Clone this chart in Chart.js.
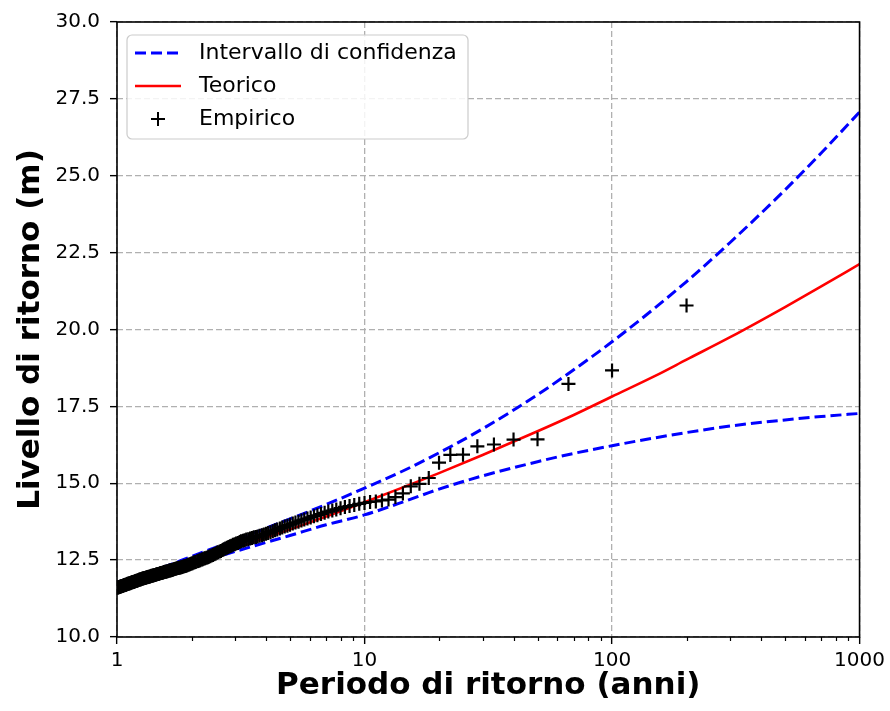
<!DOCTYPE html>
<html>
<head>
<meta charset="utf-8">
<script src="https://cdn.jsdelivr.net/npm/chart.js@4.4.0/dist/chart.umd.min.js"></script>
<style>
html, body { margin: 0; padding: 0; background: #fff; }
#wrap { width: 890px; height: 711px; }
</style>
</head>
<body>
<div id="wrap"><canvas id="grafico" width="890" height="711"></canvas></div>
<script>
// curve teoriche e intervallo di confidenza (periodo di ritorno in anni -> livello in m)
var periodiCurve = [1, 1.5, 2, 3, 5, 7, 10, 15, 20, 30, 50, 70, 100, 150, 200, 300, 500, 700, 1000];
var teorico = [11.68, 12.11, 12.43, 12.89, 13.50, 13.92, 14.38, 14.93, 15.33, 15.92, 16.69, 17.22, 17.82, 18.50, 19.02, 19.75, 20.73, 21.40, 22.13];
var confSup = [11.78, 12.24, 12.62, 13.15, 13.84, 14.31, 14.84, 15.48, 15.99, 16.77, 17.88, 18.69, 19.60, 20.72, 21.56, 22.83, 24.54, 25.74, 27.07];
var confInf = [11.60, 12.02, 12.33, 12.78, 13.30, 13.65, 13.97, 14.45, 14.81, 15.24, 15.70, 15.97, 16.22, 16.48, 16.65, 16.86, 17.06, 17.17, 17.27];

// punti empirici
var periodiEmpirici = [200, 100, 66.67, 50, 40, 33.33, 28.57, 25, 22.22, 20,
  18.18, 16.67, 15.38, 14.29, 13.33, 12.5, 11.76, 11.11, 10.53, 10,
  9.52, 9.09, 8.70, 8.33, 8, 7.69, 7.41, 7.14, 6.90, 6.67,
  6.45, 6.25, 6.06, 5.88, 5.71, 5.56, 5.41, 5.26, 5.13, 5,
  4.88, 4.76, 4.65, 4.55, 4.44, 4.35, 4.26, 4.17, 4.08, 4,
  3.92, 3.85, 3.77, 3.70, 3.64, 3.57, 3.51, 3.45, 3.39, 3.33,
  3.28, 3.23, 3.17, 3.13, 3.08, 3.03, 2.99, 2.94, 2.90, 2.86,
  2.82, 2.78, 2.74, 2.70, 2.67, 2.63, 2.60, 2.56, 2.53, 2.5,
  2.47, 2.44, 2.41, 2.38, 2.35, 2.33, 2.30, 2.27, 2.25, 2.22,
  2.20, 2.17, 2.15, 2.13, 2.11, 2.08, 2.06, 2.04, 2.02, 2,
  1.980, 1.961, 1.942, 1.923, 1.905, 1.887, 1.869, 1.852, 1.835, 1.818,
  1.802, 1.786, 1.770, 1.754, 1.739, 1.724, 1.709, 1.695, 1.681, 1.667,
  1.653, 1.639, 1.626, 1.613, 1.6, 1.587, 1.575, 1.563, 1.550, 1.538,
  1.527, 1.515, 1.504, 1.493, 1.481, 1.471, 1.460, 1.449, 1.439, 1.429,
  1.418, 1.408, 1.399, 1.389, 1.379, 1.370, 1.361, 1.351, 1.342, 1.333,
  1.325, 1.316, 1.307, 1.299, 1.290, 1.282, 1.274, 1.266, 1.258, 1.25,
  1.242, 1.235, 1.227, 1.220, 1.212, 1.205, 1.198, 1.190, 1.183, 1.176,
  1.170, 1.163, 1.156, 1.149, 1.143, 1.136, 1.130, 1.124, 1.117, 1.111,
  1.105, 1.099, 1.093, 1.087, 1.081, 1.075, 1.070, 1.064, 1.058, 1.053,
  1.047, 1.042, 1.036, 1.031, 1.026, 1.020, 1.015, 1.010, 1.005];
var livelliEmpirici = [20.78, 18.67, 18.23, 16.43, 16.42, 16.26, 16.20, 15.93, 15.92, 15.67,
  15.17, 14.98, 14.90, 14.67, 14.55, 14.47, 14.44, 14.41, 14.39, 14.36,
  14.33, 14.29, 14.26, 14.23, 14.19, 14.15, 14.11, 14.08, 14.04, 14.00,
  13.96, 13.93, 13.89, 13.85, 13.82, 13.79, 13.75, 13.72, 13.69, 13.65,
  13.62, 13.59, 13.56, 13.53, 13.50, 13.47, 13.44, 13.41, 13.38, 13.36,
  13.33, 13.31, 13.29, 13.27, 13.25, 13.24, 13.22, 13.20, 13.18, 13.17,
  13.15, 13.13, 13.11, 13.09, 13.06, 13.04, 13.02, 13.00, 12.97, 12.95,
  12.93, 12.90, 12.88, 12.85, 12.83, 12.80, 12.78, 12.76, 12.74, 12.71,
  12.69, 12.67, 12.65, 12.63, 12.61, 12.59, 12.58, 12.56, 12.55, 12.53,
  12.52, 12.50, 12.49, 12.47, 12.46, 12.44, 12.43, 12.42, 12.40, 12.39,
  12.37, 12.36, 12.35, 12.33, 12.32, 12.31, 12.30, 12.29, 12.28, 12.27,
  12.26, 12.25, 12.24, 12.24, 12.23, 12.22, 12.21, 12.20, 12.19, 12.18,
  12.17, 12.16, 12.16, 12.15, 12.14, 12.13, 12.12, 12.12, 12.11, 12.10,
  12.09, 12.08, 12.08, 12.07, 12.06, 12.05, 12.05, 12.04, 12.03, 12.02,
  12.02, 12.01, 12.00, 11.99, 11.99, 11.98, 11.97, 11.96, 11.96, 11.95,
  11.94, 11.94, 11.93, 11.92, 11.92, 11.91, 11.90, 11.90, 11.89, 11.88,
  11.87, 11.87, 11.86, 11.85, 11.84, 11.83, 11.83, 11.82, 11.81, 11.80,
  11.80, 11.79, 11.78, 11.78, 11.77, 11.76, 11.75, 11.75, 11.74, 11.73,
  11.73, 11.72, 11.71, 11.70, 11.70, 11.69, 11.68, 11.68, 11.67, 11.66,
  11.66, 11.65, 11.64, 11.64, 11.63, 11.63, 11.62, 11.61, 11.61];

// tacche degli assi
var xTicks = [1, 2, 3, 4, 5, 6, 7, 8, 9, 10, 20, 30, 40, 50, 60, 70, 80, 90, 100, 200, 300, 400, 500, 600, 700, 800, 900, 1000];
var xMajor = [1, 10, 100, 1000];
var xTickLabels = ['1', '10', '100', '1000'];
var yTicks = [10, 12.5, 15, 17.5, 20, 22.5, 25, 27.5, 30];
var yTickLabels = ['10.0', '12.5', '15.0', '17.5', '20.0', '22.5', '25.0', '27.5', '30.0'];

var etichette = ['Intervallo di confidenza', 'Teorico', 'Empirico'];

function coppie(xs, ys) {
    return xs.map(function(x, i) { return {x: x, y: ys[i]}; });
}

var BLU = '#0000ff';
var ROSSO = '#ff0000';
var GRIGIO = '#b0b0b0';
var FONT = "'DejaVu Sans', sans-serif";

var cornice = {
    id: 'cornice',
    afterDraw: function(chart) {
        var ctx = chart.ctx;
        var a = chart.chartArea;
        var sx = chart.scales.x;
        ctx.save();
        // tacche minori asse x
        ctx.strokeStyle = '#000';
        ctx.lineWidth = 1.2;
        xTicks.forEach(function(v) {
            if (xMajor.indexOf(v) >= 0) return;
            var px = Math.round(sx.getPixelForValue(v)) + 0.5;
            ctx.beginPath();
            ctx.moveTo(px, a.bottom);
            ctx.lineTo(px, a.bottom + 4);
            ctx.stroke();
        });
        // bordo
        ctx.lineWidth = 1.6;
        ctx.strokeRect(a.left, a.top, a.right - a.left, a.bottom - a.top);

        // legenda
        var x0 = a.left + 10, y0 = a.top + 13, w = 341, h = 104;
        ctx.fillStyle = 'rgba(255,255,255,0.85)';
        ctx.strokeStyle = '#cccccc';
        ctx.lineWidth = 1.2;
        ctx.beginPath();
        if (ctx.roundRect) ctx.roundRect(x0, y0, w, h, 5); else ctx.rect(x0, y0, w, h);
        ctx.fill();
        ctx.stroke();

        var righe = [y0 + 18, y0 + 51, y0 + 84];
        ctx.lineWidth = 3;
        ctx.strokeStyle = BLU;
        ctx.setLineDash([11, 5]);
        ctx.beginPath();
        ctx.moveTo(x0 + 8, righe[0]);
        ctx.lineTo(x0 + 54, righe[0]);
        ctx.stroke();
        ctx.setLineDash([]);
        ctx.strokeStyle = ROSSO;
        ctx.lineWidth = 2.6;
        ctx.beginPath();
        ctx.moveTo(x0 + 8, righe[1]);
        ctx.lineTo(x0 + 54, righe[1]);
        ctx.stroke();
        ctx.strokeStyle = '#000';
        ctx.lineWidth = 2;
        ctx.beginPath();
        ctx.moveTo(x0 + 24, righe[2]);
        ctx.lineTo(x0 + 38, righe[2]);
        ctx.moveTo(x0 + 31, righe[2] - 7);
        ctx.lineTo(x0 + 31, righe[2] + 7);
        ctx.stroke();

        ctx.fillStyle = '#000';
        ctx.font = '22px ' + FONT;
        ctx.textBaseline = 'middle';
        ctx.textAlign = 'left';
        etichette.forEach(function(t, i) {
            ctx.fillText(t, x0 + 72, righe[i]);
        });
        ctx.restore();
    }
};

var grafico = new Chart(document.getElementById('grafico').getContext('2d'), {
    type: 'line',
    data: {
        datasets: [{
            label: etichette[0],
            data: coppie(periodiCurve, confSup),
            borderColor: BLU,
            borderWidth: 3,
            borderDash: [11, 5],
            pointRadius: 0,
            cubicInterpolationMode: 'monotone',
            order: 1
        }, {
            label: etichette[0] + ' inf',
            data: coppie(periodiCurve, confInf),
            borderColor: BLU,
            borderWidth: 3,
            borderDash: [11, 5],
            pointRadius: 0,
            cubicInterpolationMode: 'monotone',
            order: 1
        }, {
            label: etichette[1],
            data: coppie(periodiCurve, teorico),
            borderColor: ROSSO,
            borderWidth: 2.6,
            pointRadius: 0,
            cubicInterpolationMode: 'monotone',
            order: 2
        }, {
            label: etichette[2],
            data: coppie(periodiEmpirici, livelliEmpirici),
            showLine: false,
            pointStyle: 'cross',
            pointRadius: 7,
            pointBorderWidth: 2.2,
            pointBorderColor: '#000',
            pointBackgroundColor: '#000',
            order: 0
        }]
    },
    options: {
        responsive: false,
        animation: false,
        devicePixelRatio: 1,
        layout: {
            padding: { top: 20, right: 30, left: 0, bottom: 0 }
        },
        plugins: {
            legend: { display: false },
            tooltip: { enabled: false }
        },
        scales: {
            x: {
                type: 'logarithmic',
                min: 1,
                max: 1000,
                afterBuildTicks: function(scale) {
                    scale.ticks = xTicks.map(function(v) {
                        return { value: v, major: xMajor.indexOf(v) >= 0 };
                    });
                },
                afterFit: function(scale) { scale.height = 74; },
                ticks: {
                    autoSkip: false,
                    maxRotation: 0,
                    padding: 5,
                    color: '#000',
                    font: { size: 20, family: FONT },
                    callback: function(value) {
                        var i = xMajor.indexOf(value);
                        return i >= 0 ? xTickLabels[i] : '';
                    }
                },
                grid: {
                    color: function(c) {
                        return (c.tick && xMajor.indexOf(c.tick.value) >= 0) ? GRIGIO : 'rgba(0,0,0,0)';
                    },
                    lineWidth: 1.3,
                    tickColor: function(c) {
                        return (c.tick && xMajor.indexOf(c.tick.value) >= 0) ? '#000' : 'rgba(0,0,0,0)';
                    },
                    tickLength: 7,
                    tickWidth: 1.4
                },
                border: { display: false, dash: [6, 3] },
                title: {
                    display: true,
                    text: 'Periodo di ritorno (anni)',
                    color: '#000',
                    font: { size: 31, weight: 'bold', family: FONT },
                    padding: { top: 0, bottom: 6 }
                }
            },
            y: {
                type: 'linear',
                min: 10,
                max: 30,
                afterBuildTicks: function(scale) {
                    scale.ticks = yTicks.map(function(v) { return { value: v }; });
                },
                afterFit: function(scale) { scale.width = 117; },
                ticks: {
                    padding: 10,
                    color: '#000',
                    font: { size: 20, family: FONT },
                    callback: function(value) {
                        var i = yTicks.indexOf(value);
                        return i >= 0 ? yTickLabels[i] : '';
                    }
                },
                grid: {
                    color: GRIGIO,
                    lineWidth: 1.3,
                    tickColor: '#000',
                    tickLength: 7,
                    tickWidth: 1.4
                },
                border: { display: false, dash: [6, 3] },
                title: {
                    display: true,
                    text: 'Livello di ritorno (m)',
                    color: '#000',
                    font: { size: 31, weight: 'bold', family: FONT },
                    padding: { top: 12, bottom: 0 }
                }
            }
        }
    },
    plugins: [cornice]
});
</script>
</body>
</html>
